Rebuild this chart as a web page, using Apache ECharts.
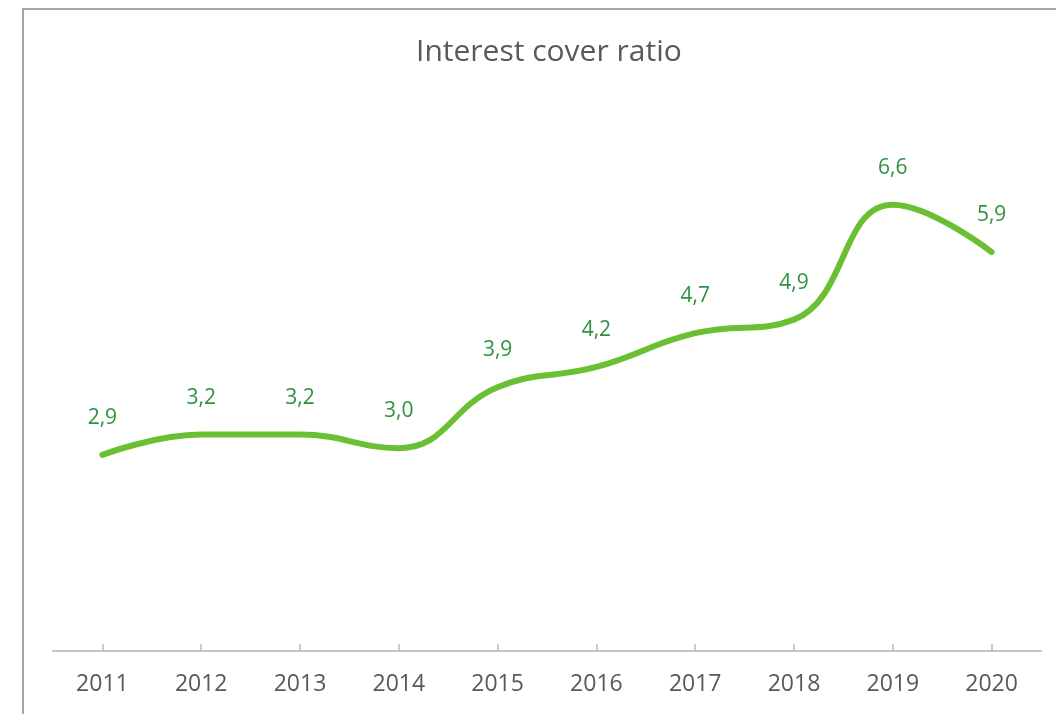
<!DOCTYPE html>
<html>
<head>
<meta charset="utf-8">
<script src="https://cdn.jsdelivr.net/npm/echarts@6/dist/echarts.min.js"></script>
<style>
html,body{margin:0;padding:0;background:#fff;}
#chart{width:1056px;height:714px;}
</style>
</head>
<body>
<div id="chart"></div>
<script>
const years = ['2011','2012','2013','2014','2015','2016','2017','2018','2019','2020'];
const ratio = [2.9, 3.2, 3.2, 3.0, 3.9, 4.2, 4.7, 4.9, 6.6, 5.9];
const titleText = 'Interest cover ratio';

const chart = echarts.init(document.getElementById('chart'));
chart.setOption({
  animation: false,
  backgroundColor: '#ffffff',
  graphic: [{
    type: 'rect',
    shape: {x: 23, y: 9, width: 1200, height: 900},
    style: {fill: 'none', stroke: '#a6a6a6', lineWidth: 2},
    silent: true, z: -1
  }],
  title: {
    text: titleText,
    left: 411,
    top: 32,
    textStyle: {
      fontFamily: 'Open Sans',
      fontSize: 30,
      fontWeight: 'normal',
      color: '#595959'
    }
  },
  grid: {left: 53, right: 15, top: 110, bottom: 63},
  xAxis: {
    type: 'category',
    data: years,
    boundaryGap: true,
    axisLine: {lineStyle: {color: '#c4c4c4', width: 2}},
    axisTick: {show: true, inside: true, alignWithLabel: true, length: 7, lineStyle: {color: '#b8b8b8', width: 1.5}},
    axisLabel: {
      margin: 22,
      fontFamily: 'Open Sans',
      fontSize: 23,
      color: '#595959'
    }
  },
  yAxis: {
    type: 'value',
    min: 0,
    max: 8,
    interval: 1,
    show: false,
    splitLine: {show: false}
  },
  series: [{
    type: 'line',
    data: ratio,
    smooth: 0.45,
    symbol: 'circle',
    symbolSize: 1,
    showSymbol: true,
    itemStyle: {color: '#6abf33', opacity: 0},
    lineStyle: {color: '#6abf33', width: 6, cap: 'round'},
    label: {
      show: true,
      position: 'top',
      distance: 26,
      fontFamily: 'Open Sans',
      fontSize: 21,
      color: '#2f923f',
      opacity: 1,
      formatter: p => p.value.toFixed(1).replace('.', ',')
    }
  }]
});
</script>
</body>
</html>
